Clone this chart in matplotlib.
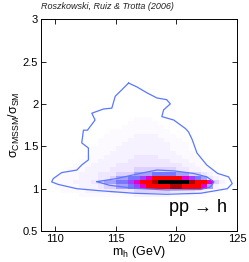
import numpy as np
import matplotlib
matplotlib.use('Agg')
import matplotlib.pyplot as plt
from matplotlib.colors import ListedColormap, BoundaryNorm

plt.rcParams['font.family'] = ['Liberation Sans', 'DejaVu Sans']
plt.rcParams['mathtext.fontset'] = 'custom'
plt.rcParams['mathtext.rm'] = 'Liberation Sans'
plt.rcParams['mathtext.it'] = 'Liberation Sans:italic'

# binned posterior, levels 0..b (hex), top row first
# columns: m_h = 110.0 .. 123.5 step 0.5 ; rows: sigma ratio 1.85 .. 0.90 step 0.05
m_edges = np.arange(110.0, 124.01, 0.5)
r_edges = np.arange(0.90, 1.901, 0.05)
grid_rows = [
    "0000000000000000000000000000",
    "0000000000000111000000000000",
    "0000000000001111100000000000",
    "0000000000011111110000000000",
    "0000000001111111111000000000",
    "0000000011111222211100000000",
    "0000000111112222221110000000",
    "0000000111122222222111000000",
    "0000001111222222222111000000",
    "0000001112222222222211100000",
    "0000011122222333322221110000",
    "0000111222223333333222110000",
    "0001112222333333333332211000",
    "0011122223333444444433221100",
    "0111222333444555666655443210",
    "1111222334556678999998765321",
    "1112223455667899abbbbba99842",
    "1111222344556789999aa9998521",
    "0111122223333444444333322110",
    "0000111111111222222111111000",
]

# contours (m_h, sigma ratio)
outer_m = [116.06, 114.96, 114.68, 113.99, 113.03, 113.3, 112.67, 112.34, 112.2, 112.75,
           112.75, 112.2, 111.8, 110.55, 109.86, 109.72, 110.27, 111.8, 113.7, 116.5,
           119.2, 121.98, 124.2, 124.6, 124.46, 124.3, 123.4, 122.5, 121.7, 121.3,
           121.0, 120.74, 119.78, 118.8, 118.95, 119.5, 119.2, 118.4, 117.58, 116.75, 116.06]
outer_r = [2.246, 2.09, 1.95, 1.94, 1.89, 1.81, 1.69, 1.69, 1.54, 1.48,
           1.34, 1.28, 1.22, 1.19, 1.12, 1.08, 1.05, 1.0, 0.976, 0.946,
           0.934, 0.946, 1.0, 1.06, 1.10, 1.14, 1.18, 1.28, 1.42, 1.58,
           1.67, 1.71, 1.81, 1.85, 1.93, 2.0, 2.05, 2.07, 2.13, 2.20, 2.246]
inner_m = [113.45, 115.1, 117.0, 118.4, 119.8, 121.4, 122.5, 123.1, 122.8, 122.0,
           119.2, 116.5, 114.5, 113.45]
inner_r = [1.083, 1.12, 1.18, 1.22, 1.21, 1.18, 1.14, 1.08, 1.02, 0.99,
           0.985, 1.005, 1.04, 1.083]

level_colors = ['#ffffff', '#fcfaff', '#f7f2ff', '#efe6ff', '#ddd2ff', '#a8a0ff',
                '#7878ff', '#a040ff', '#e000d0', '#ff0000', '#b00000', '#000000']

grid = np.array([[int(c, 16) for c in row] for row in grid_rows[::-1]])
cmap = ListedColormap(level_colors)
norm = BoundaryNorm(np.arange(-0.5, len(level_colors)), cmap.N)

fig = plt.figure(figsize=(2.49, 2.62), dpi=100)
ax = fig.add_axes([0.165, 0.118, 0.787, 0.809])

ax.pcolormesh(m_edges, r_edges, grid, cmap=cmap, norm=norm)
ax.plot(outer_m, outer_r, color='#5a78ff', lw=0.9)
ax.plot(inner_m, inner_r, color='#5a78ff', lw=0.9)

ax.set_xlim(108.85, 125)
ax.set_ylim(0.5, 3)
ax.set_xticks([110, 115, 120, 125])
ax.set_yticks([0.5, 1, 1.5, 2, 2.5, 3])
ax.set_yticklabels(['0.5', '1', '1.5', '2', '2.5', '3'])
ax.tick_params(direction='in', top=True, right=True, length=3.5, width=0.6,
               labelsize=8, pad=2)
for s in ax.spines.values():
    s.set_linewidth(0.7)

ax.set_xlabel(r'$\rm m_h$ (GeV)', fontsize=9, labelpad=0)
ax.set_ylabel(r'$\rm \sigma_{CMSSM}/\sigma_{SM}$', fontsize=9, labelpad=1)
ax.text(121.8, 0.78, 'pp \u2192 h', fontsize=13, ha='center', va='center')
fig.text(0.165, 0.975, 'Roszkowski, Ruiz & Trotta (2006)', fontsize=6.5,
         style='italic', ha='left', va='center', color='#222222')

fig.savefig('out.png', dpi=100)
